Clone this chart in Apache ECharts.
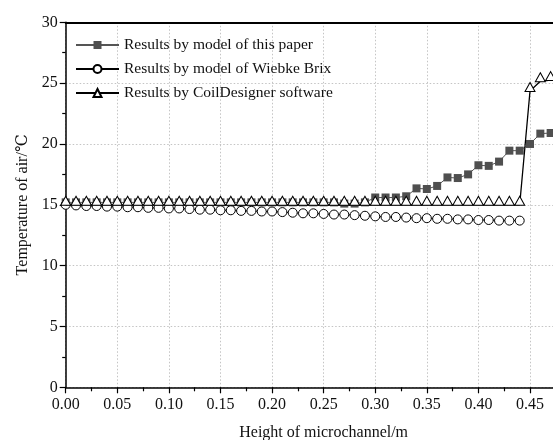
<!DOCTYPE html>
<html>
<head>
<meta charset="utf-8">
<script src="https://cdn.jsdelivr.net/npm/echarts@6/dist/echarts.min.js"></script>
<style>
  html, body { margin: 0; padding: 0; background: #fff; }
  #chart { width: 553px; height: 440px; }
</style>
</head>
<body>
<div id="chart"></div>
<script>
// Sample positions along the channel height (m), one every 0.01 m
const heights = [
  0.00, 0.01, 0.02, 0.03, 0.04, 0.05, 0.06, 0.07, 0.08, 0.09,
  0.10, 0.11, 0.12, 0.13, 0.14, 0.15, 0.16, 0.17, 0.18, 0.19,
  0.20, 0.21, 0.22, 0.23, 0.24, 0.25, 0.26, 0.27, 0.28, 0.29,
  0.30, 0.31, 0.32, 0.33, 0.34, 0.35, 0.36, 0.37, 0.38, 0.39,
  0.40, 0.41, 0.42, 0.43, 0.44, 0.45, 0.46, 0.47
];

// Air temperature (°C), model of this paper
const tempThisPaper = [
  15.2, 15.2, 15.2, 15.2, 15.2, 15.2, 15.2, 15.2, 15.2, 15.2,
  15.2, 15.2, 15.2, 15.2, 15.2, 15.2, 15.2, 15.2, 15.2, 15.2,
  15.2, 15.2, 15.2, 15.2, 15.2, 15.2, 15.2, 15.1, 15.1, 15.2,
  15.6, 15.6, 15.6, 15.7, 16.35, 16.3, 16.55, 17.25, 17.2, 17.5,
  18.25, 18.2, 18.55, 19.45, 19.45, 20.0, 20.85, 20.9
];

// Air temperature (°C), model of Wiebke Brix
const tempWiebkeBrix = [
  15.0, 14.95, 14.9, 14.9, 14.85, 14.85, 14.8, 14.8, 14.75, 14.75,
  14.7, 14.7, 14.65, 14.6, 14.6, 14.55, 14.55, 14.5, 14.5, 14.45,
  14.45, 14.4, 14.35, 14.3, 14.3, 14.25, 14.2, 14.2, 14.15, 14.1,
  14.05, 14.0, 14.0, 13.95, 13.9, 13.9, 13.85, 13.85, 13.8, 13.8,
  13.75, 13.75, 13.7, 13.7, 13.7
];

// Air temperature (°C), CoilDesigner software
const tempCoilDesigner = [
  15.0, 15.0, 15.0, 15.0, 15.0, 15.0, 15.0, 15.0, 15.0, 15.0,
  15.0, 15.0, 15.0, 15.0, 15.0, 15.0, 15.0, 15.0, 15.0, 15.0,
  15.0, 15.0, 15.0, 15.0, 15.0, 15.0, 15.0, 15.0, 15.0, 15.0,
  15.0, 15.0, 15.0, 15.0, 15.0, 15.0, 15.0, 15.0, 15.0, 15.0,
  15.0, 15.0, 15.0, 15.0, 15.0, 24.35, 25.15, 25.25
];

const seriesNames = [
  'Results by model of this paper',
  'Results by model of Wiebke Brix',
  'Results by CoilDesigner software'
];

const xTitle = 'Height of microchannel/m';
const yTitle = 'Temperature of air/℃';

const pairs = (ys) => ys.map((y, i) => [heights[i], y]);

const FONT = '"Liberation Serif", "DejaVu Serif", serif';
const gridDash = { color: '#c4c4c4', type: [1.5, 2], width: 1 };

const chart = echarts.init(document.getElementById('chart'), null, { renderer: 'canvas' });

chart.setOption({
  backgroundColor: '#fff',
  animation: false,
  textStyle: { fontFamily: FONT },
  grid: {
    left: 65.7,
    top: 22.3,
    bottom: 52.7,
    right: -28.6,
    containLabel: false,
    outerBoundsMode: 'none',
    show: false
  },
  legend: {
    orient: 'vertical',
    left: 75,
    top: 37,
    itemWidth: 43,
    itemHeight: 10,
    itemGap: 8,
    padding: 0,
    textStyle: { fontFamily: FONT, fontSize: 15.5, color: '#111', lineHeight: 16 },
    data: seriesNames
  },
  xAxis: [
    {
      type: 'value',
      min: 0,
      max: 0.5,
      interval: 0.05,
      name: xTitle,
      nameLocation: 'middle',
      nameGap: 37,
      nameTextStyle: { fontFamily: FONT, fontSize: 16, color: '#111' },
      axisLine: { show: true, onZero: false, lineStyle: { color: '#000', width: 1.5 } },
      axisTick: { show: true, inside: false, length: 6, lineStyle: { color: '#000', width: 1.2 } },
      minorTick: { show: true, splitNumber: 2, length: 4, lineStyle: { color: '#000', width: 1.2 } },
      axisLabel: {
        fontFamily: FONT, fontSize: 16, color: '#111', margin: 9,
        formatter: (v) => v.toFixed(2)
      },
      splitLine: { show: true, lineStyle: gridDash }
    },
    {
      // frame line along the top edge of the plot
      type: 'value',
      position: 'top',
      min: 0,
      max: 0.5,
      interval: 0.05,
      axisLine: { show: true, onZero: false, lineStyle: { color: '#000', width: 1.8 } },
      axisTick: { show: false },
      axisLabel: { show: false },
      splitLine: { show: false }
    }
  ],
  yAxis: {
    type: 'value',
    min: 0,
    max: 30,
    interval: 5,
    name: yTitle,
    nameLocation: 'middle',
    nameGap: 35,
    nameTextStyle: { fontFamily: FONT, fontSize: 16, color: '#111' },
    axisLine: { show: true, onZero: false, lineStyle: { color: '#000', width: 1.5 } },
    axisTick: { show: true, inside: false, length: 6, lineStyle: { color: '#000', width: 1.2 } },
    minorTick: { show: true, splitNumber: 2, length: 3.5, lineStyle: { color: '#000', width: 1.2 } },
    axisLabel: { fontFamily: FONT, fontSize: 16, color: '#111', margin: 8 },
    splitLine: { show: true, showMaxLine: false, lineStyle: gridDash }
  },
  series: [
    {
      name: seriesNames[0],
      type: 'line',
      data: pairs(tempThisPaper),
      symbol: 'rect',
      symbolSize: 8,
      z: 2,
      lineStyle: { color: '#555', width: 1 },
      itemStyle: { color: '#4f4f4f', borderColor: '#4f4f4f', borderWidth: 0 }
    },
    {
      name: seriesNames[1],
      type: 'line',
      data: pairs(tempWiebkeBrix),
      symbol: 'circle',
      symbolSize: 9,
      z: 3,
      lineStyle: { color: '#000', width: 1 },
      itemStyle: { color: '#fff', borderColor: '#000', borderWidth: 1 }
    },
    {
      name: seriesNames[2],
      type: 'line',
      data: pairs(tempCoilDesigner),
      symbol: 'triangle',
      symbolSize: [10, 9],
      symbolOffset: [0, -4],
      z: 4,
      lineStyle: { color: '#000', width: 1.3 },
      itemStyle: { color: '#fff', borderColor: '#000', borderWidth: 1 }
    }
  ]
});
</script>
</body>
</html>
